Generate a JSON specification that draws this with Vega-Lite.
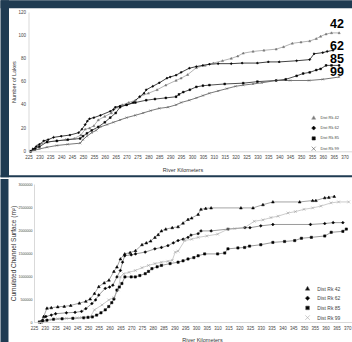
{
  "$schema": "https://vega.github.io/schema/vega-lite/v6.json",
  "background": "white",
  "padding": 0,
  "columns": 1,
  "spacing": 0,
  "resolve": {"scale": {"color": "independent", "fill": "independent", "stroke": "independent", "shape": "independent"}, "legend": {"shape": "independent", "color": "independent", "fill": "independent", "stroke": "independent"}},
  "config": {
    "font": "Liberation Sans",
    "view": {"stroke": null},
    "axis": {"grid": false, "ticks": false, "domainColor": "#cfcfcf", "domainWidth": 0.8, "labelColor": "#444", "titleColor": "#333", "titleFontWeight": "normal", "labelFont": "Liberation Sans", "titleFont": "Liberation Sans", "labelOverlap": false, "labelFlush": false},
    "legend": {"padding": 0, "title": null, "labelColor": "#444", "labelFont": "Liberation Sans"}
  },
  "datasets": {
    "lakes": [
      {"series":"Dist Rk 42","km":226,"lakes":0},{"series":"Dist Rk 42","km":227.5,"lakes":2},{"series":"Dist Rk 42","km":229,"lakes":5},{"series":"Dist Rk 42","km":231,"lakes":7},{"series":"Dist Rk 42","km":234,"lakes":8},{"series":"Dist Rk 42","km":238,"lakes":9},{"series":"Dist Rk 42","km":242,"lakes":10},{"series":"Dist Rk 42","km":246,"lakes":11},{"series":"Dist Rk 42","km":249,"lakes":14},{"series":"Dist Rk 42","km":251,"lakes":19},{"series":"Dist Rk 42","km":253,"lakes":20},{"series":"Dist Rk 42","km":255,"lakes":22},{"series":"Dist Rk 42","km":257,"lakes":27},{"series":"Dist Rk 42","km":260,"lakes":30},{"series":"Dist Rk 42","km":263,"lakes":33},{"series":"Dist Rk 42","km":265.6,"lakes":38},{"series":"Dist Rk 42","km":268,"lakes":40},{"series":"Dist Rk 42","km":271,"lakes":42},{"series":"Dist Rk 42","km":274,"lakes":44},{"series":"Dist Rk 42","km":276,"lakes":47},{"series":"Dist Rk 42","km":280,"lakes":50},{"series":"Dist Rk 42","km":284,"lakes":53},{"series":"Dist Rk 42","km":288,"lakes":57},{"series":"Dist Rk 42","km":292.7,"lakes":61},{"series":"Dist Rk 42","km":295,"lakes":63},{"series":"Dist Rk 42","km":298,"lakes":66},{"series":"Dist Rk 42","km":302,"lakes":72},{"series":"Dist Rk 42","km":306,"lakes":74},{"series":"Dist Rk 42","km":309.8,"lakes":76},{"series":"Dist Rk 42","km":314,"lakes":78},{"series":"Dist Rk 42","km":318,"lakes":80},{"series":"Dist Rk 42","km":321,"lakes":82},{"series":"Dist Rk 42","km":323.5,"lakes":84.5},{"series":"Dist Rk 42","km":328,"lakes":86},{"series":"Dist Rk 42","km":333,"lakes":87},{"series":"Dist Rk 42","km":338.6,"lakes":88},{"series":"Dist Rk 42","km":342,"lakes":90},{"series":"Dist Rk 42","km":346,"lakes":93},{"series":"Dist Rk 42","km":350,"lakes":94},{"series":"Dist Rk 42","km":354,"lakes":95},{"series":"Dist Rk 42","km":357,"lakes":97},{"series":"Dist Rk 42","km":359,"lakes":99},{"series":"Dist Rk 42","km":361.5,"lakes":101},{"series":"Dist Rk 42","km":364,"lakes":102},{"series":"Dist Rk 42","km":367.5,"lakes":102},
      {"series":"Dist Rk 62","km":226,"lakes":0},{"series":"Dist Rk 62","km":227,"lakes":2},{"series":"Dist Rk 62","km":228.5,"lakes":4},{"series":"Dist Rk 62","km":230,"lakes":6},{"series":"Dist Rk 62","km":232,"lakes":9},{"series":"Dist Rk 62","km":234,"lakes":10},{"series":"Dist Rk 62","km":236.5,"lakes":12},{"series":"Dist Rk 62","km":240,"lakes":13},{"series":"Dist Rk 62","km":244,"lakes":14},{"series":"Dist Rk 62","km":248,"lakes":16},{"series":"Dist Rk 62","km":249.5,"lakes":19},{"series":"Dist Rk 62","km":251,"lakes":23},{"series":"Dist Rk 62","km":252,"lakes":26},{"series":"Dist Rk 62","km":253,"lakes":28},{"series":"Dist Rk 62","km":255,"lakes":29},{"series":"Dist Rk 62","km":258,"lakes":31},{"series":"Dist Rk 62","km":262.5,"lakes":34.5},{"series":"Dist Rk 62","km":264,"lakes":36},{"series":"Dist Rk 62","km":264.8,"lakes":38},{"series":"Dist Rk 62","km":267,"lakes":39},{"series":"Dist Rk 62","km":270,"lakes":40},{"series":"Dist Rk 62","km":273,"lakes":42},{"series":"Dist Rk 62","km":276,"lakes":47},{"series":"Dist Rk 62","km":278,"lakes":50},{"series":"Dist Rk 62","km":279,"lakes":53},{"series":"Dist Rk 62","km":282,"lakes":56},{"series":"Dist Rk 62","km":285,"lakes":59},{"series":"Dist Rk 62","km":288.5,"lakes":63},{"series":"Dist Rk 62","km":290,"lakes":64},{"series":"Dist Rk 62","km":292.7,"lakes":65.6},{"series":"Dist Rk 62","km":295,"lakes":68},{"series":"Dist Rk 62","km":298.8,"lakes":71.6},{"series":"Dist Rk 62","km":302,"lakes":73},{"series":"Dist Rk 62","km":305,"lakes":74},{"series":"Dist Rk 62","km":308,"lakes":75},{"series":"Dist Rk 62","km":312,"lakes":75.5},{"series":"Dist Rk 62","km":318,"lakes":75.5},{"series":"Dist Rk 62","km":323,"lakes":76},{"series":"Dist Rk 62","km":330,"lakes":76},{"series":"Dist Rk 62","km":335,"lakes":77},{"series":"Dist Rk 62","km":340,"lakes":77},{"series":"Dist Rk 62","km":348,"lakes":78},{"series":"Dist Rk 62","km":354,"lakes":79},{"series":"Dist Rk 62","km":356,"lakes":84},{"series":"Dist Rk 62","km":360,"lakes":85},{"series":"Dist Rk 62","km":362,"lakes":86},{"series":"Dist Rk 62","km":364.7,"lakes":87},
      {"series":"Dist Rk 85","km":226,"lakes":0},{"series":"Dist Rk 85","km":228,"lakes":2},{"series":"Dist Rk 85","km":230,"lakes":4},{"series":"Dist Rk 85","km":233.5,"lakes":8},{"series":"Dist Rk 85","km":238,"lakes":9},{"series":"Dist Rk 85","km":243,"lakes":10},{"series":"Dist Rk 85","km":248.7,"lakes":11},{"series":"Dist Rk 85","km":250,"lakes":13},{"series":"Dist Rk 85","km":251.8,"lakes":15.5},{"series":"Dist Rk 85","km":254,"lakes":18},{"series":"Dist Rk 85","km":257,"lakes":21},{"series":"Dist Rk 85","km":260,"lakes":25},{"series":"Dist Rk 85","km":262.5,"lakes":29},{"series":"Dist Rk 85","km":265,"lakes":33},{"series":"Dist Rk 85","km":267,"lakes":38},{"series":"Dist Rk 85","km":270,"lakes":40},{"series":"Dist Rk 85","km":274,"lakes":42},{"series":"Dist Rk 85","km":279,"lakes":44},{"series":"Dist Rk 85","km":283,"lakes":45},{"series":"Dist Rk 85","km":288,"lakes":46},{"series":"Dist Rk 85","km":292.7,"lakes":47},{"series":"Dist Rk 85","km":294,"lakes":49},{"series":"Dist Rk 85","km":296,"lakes":51},{"series":"Dist Rk 85","km":299,"lakes":53},{"series":"Dist Rk 85","km":302,"lakes":55.5},{"series":"Dist Rk 85","km":305,"lakes":56.5},{"series":"Dist Rk 85","km":308,"lakes":57},{"series":"Dist Rk 85","km":315,"lakes":58},{"series":"Dist Rk 85","km":323.5,"lakes":58.7},{"series":"Dist Rk 85","km":330,"lakes":60},{"series":"Dist Rk 85","km":338.6,"lakes":61},{"series":"Dist Rk 85","km":343,"lakes":62},{"series":"Dist Rk 85","km":348,"lakes":65},{"series":"Dist Rk 85","km":351,"lakes":67},{"series":"Dist Rk 85","km":354,"lakes":68},{"series":"Dist Rk 85","km":357,"lakes":70},{"series":"Dist Rk 85","km":359,"lakes":71},{"series":"Dist Rk 85","km":361.5,"lakes":74},{"series":"Dist Rk 85","km":364,"lakes":74},{"series":"Dist Rk 85","km":367.5,"lakes":74},
      {"series":"Dist Rk 99","km":226,"lakes":0},{"series":"Dist Rk 99","km":228,"lakes":1},{"series":"Dist Rk 99","km":230,"lakes":2},{"series":"Dist Rk 99","km":233.5,"lakes":3.5},{"series":"Dist Rk 99","km":238,"lakes":5},{"series":"Dist Rk 99","km":243,"lakes":6},{"series":"Dist Rk 99","km":248.7,"lakes":7},{"series":"Dist Rk 99","km":250,"lakes":10},{"series":"Dist Rk 99","km":251.8,"lakes":13},{"series":"Dist Rk 99","km":254,"lakes":16},{"series":"Dist Rk 99","km":256,"lakes":18},{"series":"Dist Rk 99","km":258,"lakes":21},{"series":"Dist Rk 99","km":261,"lakes":23},{"series":"Dist Rk 99","km":264,"lakes":25},{"series":"Dist Rk 99","km":267,"lakes":27},{"series":"Dist Rk 99","km":270,"lakes":29},{"series":"Dist Rk 99","km":274,"lakes":31},{"series":"Dist Rk 99","km":277.6,"lakes":33},{"series":"Dist Rk 99","km":281,"lakes":35},{"series":"Dist Rk 99","km":285,"lakes":37},{"series":"Dist Rk 99","km":289,"lakes":38},{"series":"Dist Rk 99","km":292.7,"lakes":40},{"series":"Dist Rk 99","km":295,"lakes":42},{"series":"Dist Rk 99","km":298.8,"lakes":44},{"series":"Dist Rk 99","km":302,"lakes":46},{"series":"Dist Rk 99","km":305,"lakes":48},{"series":"Dist Rk 99","km":308,"lakes":50},{"series":"Dist Rk 99","km":312,"lakes":52},{"series":"Dist Rk 99","km":316,"lakes":54},{"series":"Dist Rk 99","km":320,"lakes":56},{"series":"Dist Rk 99","km":323.5,"lakes":57},{"series":"Dist Rk 99","km":328,"lakes":58},{"series":"Dist Rk 99","km":332,"lakes":59},{"series":"Dist Rk 99","km":338.6,"lakes":61},{"series":"Dist Rk 99","km":345,"lakes":61},{"series":"Dist Rk 99","km":353.7,"lakes":61},{"series":"Dist Rk 99","km":360,"lakes":62},{"series":"Dist Rk 99","km":367.5,"lakes":64}
    ],
    "surface": [
      {"series":"Dist Rk 42","km":228.5,"surface":0},{"series":"Dist Rk 42","km":229.5,"surface":120000},{"series":"Dist Rk 42","km":231,"surface":300000},{"series":"Dist Rk 42","km":233,"surface":310000},{"series":"Dist Rk 42","km":236,"surface":330000},{"series":"Dist Rk 42","km":239,"surface":340000},{"series":"Dist Rk 42","km":242,"surface":360000},{"series":"Dist Rk 42","km":246,"surface":410000},{"series":"Dist Rk 42","km":249,"surface":450000},{"series":"Dist Rk 42","km":251,"surface":500000},{"series":"Dist Rk 42","km":253,"surface":620000},{"series":"Dist Rk 42","km":255,"surface":770000},{"series":"Dist Rk 42","km":257.5,"surface":850000},{"series":"Dist Rk 42","km":259.7,"surface":910000},{"series":"Dist Rk 42","km":262,"surface":1100000},{"series":"Dist Rk 42","km":263.4,"surface":1195000},{"series":"Dist Rk 42","km":265,"surface":1370000},{"series":"Dist Rk 42","km":267,"surface":1480000},{"series":"Dist Rk 42","km":269.5,"surface":1510000},{"series":"Dist Rk 42","km":272,"surface":1550000},{"series":"Dist Rk 42","km":275,"surface":1680000},{"series":"Dist Rk 42","km":277,"surface":1720000},{"series":"Dist Rk 42","km":279,"surface":1760000},{"series":"Dist Rk 42","km":281,"surface":1840000},{"series":"Dist Rk 42","km":282.5,"surface":1900000},{"series":"Dist Rk 42","km":284,"surface":1980000},{"series":"Dist Rk 42","km":286,"surface":2020000},{"series":"Dist Rk 42","km":289,"surface":2050000},{"series":"Dist Rk 42","km":291.7,"surface":2070000},{"series":"Dist Rk 42","km":294,"surface":2150000},{"series":"Dist Rk 42","km":296.3,"surface":2230000},{"series":"Dist Rk 42","km":298,"surface":2260000},{"series":"Dist Rk 42","km":301,"surface":2340000},{"series":"Dist Rk 42","km":302.3,"surface":2450000},{"series":"Dist Rk 42","km":304.5,"surface":2470000},{"series":"Dist Rk 42","km":307,"surface":2480000},{"series":"Dist Rk 42","km":320.8,"surface":2480000},{"series":"Dist Rk 42","km":326.4,"surface":2480000},{"series":"Dist Rk 42","km":331,"surface":2550000},{"series":"Dist Rk 42","km":335.6,"surface":2610000},{"series":"Dist Rk 42","km":348,"surface":2610000},{"series":"Dist Rk 42","km":354,"surface":2640000},{"series":"Dist Rk 42","km":355.5,"surface":2640000},{"series":"Dist Rk 42","km":359.6,"surface":2700000},{"series":"Dist Rk 42","km":361.5,"surface":2710000},{"series":"Dist Rk 42","km":364,"surface":2730000},
      {"series":"Dist Rk 62","km":228,"surface":0},{"series":"Dist Rk 62","km":229,"surface":40000},{"series":"Dist Rk 62","km":230.5,"surface":120000},{"series":"Dist Rk 62","km":233,"surface":150000},{"series":"Dist Rk 62","km":235,"surface":180000},{"series":"Dist Rk 62","km":240,"surface":200000},{"series":"Dist Rk 62","km":244,"surface":210000},{"series":"Dist Rk 62","km":247,"surface":230000},{"series":"Dist Rk 62","km":249,"surface":290000},{"series":"Dist Rk 62","km":251.8,"surface":400000},{"series":"Dist Rk 62","km":253.5,"surface":480000},{"series":"Dist Rk 62","km":255,"surface":586000},{"series":"Dist Rk 62","km":258,"surface":730000},{"series":"Dist Rk 62","km":260,"surface":760000},{"series":"Dist Rk 62","km":261.5,"surface":800000},{"series":"Dist Rk 62","km":263.4,"surface":980000},{"series":"Dist Rk 62","km":265,"surface":1120000},{"series":"Dist Rk 62","km":266,"surface":1300000},{"series":"Dist Rk 62","km":267,"surface":1440000},{"series":"Dist Rk 62","km":270,"surface":1460000},{"series":"Dist Rk 62","km":272,"surface":1480000},{"series":"Dist Rk 62","km":276.5,"surface":1520000},{"series":"Dist Rk 62","km":281,"surface":1590000},{"series":"Dist Rk 62","km":284,"surface":1620000},{"series":"Dist Rk 62","km":287,"surface":1660000},{"series":"Dist Rk 62","km":289.5,"surface":1720000},{"series":"Dist Rk 62","km":291.7,"surface":1770000},{"series":"Dist Rk 62","km":294,"surface":1800000},{"series":"Dist Rk 62","km":296.3,"surface":1840000},{"series":"Dist Rk 62","km":297.7,"surface":1890000},{"series":"Dist Rk 62","km":301,"surface":1920000},{"series":"Dist Rk 62","km":302.3,"surface":1980000},{"series":"Dist Rk 62","km":307,"surface":1980000},{"series":"Dist Rk 62","km":314.8,"surface":2020000},{"series":"Dist Rk 62","km":322.7,"surface":2050000},{"series":"Dist Rk 62","km":325,"surface":2050000},{"series":"Dist Rk 62","km":330,"surface":2090000},{"series":"Dist Rk 62","km":335.6,"surface":2120000},{"series":"Dist Rk 62","km":353,"surface":2120000},{"series":"Dist Rk 62","km":359.6,"surface":2140000},{"series":"Dist Rk 62","km":363.5,"surface":2160000},{"series":"Dist Rk 62","km":368,"surface":2160000},
      {"series":"Dist Rk 85","km":227.5,"surface":0},{"series":"Dist Rk 85","km":229,"surface":20000},{"series":"Dist Rk 85","km":231,"surface":40000},{"series":"Dist Rk 85","km":234,"surface":60000},{"series":"Dist Rk 85","km":238,"surface":70000},{"series":"Dist Rk 85","km":243,"surface":80000},{"series":"Dist Rk 85","km":248,"surface":90000},{"series":"Dist Rk 85","km":250,"surface":100000},{"series":"Dist Rk 85","km":252,"surface":110000},{"series":"Dist Rk 85","km":254,"surface":150000},{"series":"Dist Rk 85","km":256,"surface":200000},{"series":"Dist Rk 85","km":258,"surface":264000},{"series":"Dist Rk 85","km":259.6,"surface":336000},{"series":"Dist Rk 85","km":261,"surface":420000},{"series":"Dist Rk 85","km":262,"surface":500000},{"series":"Dist Rk 85","km":263.4,"surface":694000},{"series":"Dist Rk 85","km":264.5,"surface":760000},{"series":"Dist Rk 85","km":265.7,"surface":837000},{"series":"Dist Rk 85","km":267.1,"surface":980000},{"series":"Dist Rk 85","km":270,"surface":980000},{"series":"Dist Rk 85","km":271.9,"surface":980000},{"series":"Dist Rk 85","km":274,"surface":1010000},{"series":"Dist Rk 85","km":276.5,"surface":1050000},{"series":"Dist Rk 85","km":278,"surface":1100000},{"series":"Dist Rk 85","km":279.6,"surface":1160000},{"series":"Dist Rk 85","km":282,"surface":1200000},{"series":"Dist Rk 85","km":284,"surface":1230000},{"series":"Dist Rk 85","km":288,"surface":1270000},{"series":"Dist Rk 85","km":291.7,"surface":1300000},{"series":"Dist Rk 85","km":294,"surface":1330000},{"series":"Dist Rk 85","km":296.3,"surface":1370000},{"series":"Dist Rk 85","km":299,"surface":1400000},{"series":"Dist Rk 85","km":301,"surface":1440000},{"series":"Dist Rk 85","km":304,"surface":1480000},{"series":"Dist Rk 85","km":310,"surface":1480000},{"series":"Dist Rk 85","km":313.3,"surface":1500000},{"series":"Dist Rk 85","km":314.8,"surface":1590000},{"series":"Dist Rk 85","km":319.4,"surface":1610000},{"series":"Dist Rk 85","km":322.5,"surface":1620000},{"series":"Dist Rk 85","km":324.8,"surface":1650000},{"series":"Dist Rk 85","km":330,"surface":1680000},{"series":"Dist Rk 85","km":335.6,"surface":1730000},{"series":"Dist Rk 85","km":341,"surface":1750000},{"series":"Dist Rk 85","km":345.7,"surface":1770000},{"series":"Dist Rk 85","km":348.8,"surface":1820000},{"series":"Dist Rk 85","km":353.4,"surface":1840000},{"series":"Dist Rk 85","km":359.6,"surface":1870000},{"series":"Dist Rk 85","km":362.6,"surface":1950000},{"series":"Dist Rk 85","km":368,"surface":1970000},{"series":"Dist Rk 85","km":369.6,"surface":2020000},
      {"series":"Dist Rk 99","km":228,"surface":0},{"series":"Dist Rk 99","km":230,"surface":20000},{"series":"Dist Rk 99","km":233,"surface":50000},{"series":"Dist Rk 99","km":236,"surface":70000},{"series":"Dist Rk 99","km":240,"surface":80000},{"series":"Dist Rk 99","km":245,"surface":90000},{"series":"Dist Rk 99","km":247,"surface":100000},{"series":"Dist Rk 99","km":249,"surface":105000},{"series":"Dist Rk 99","km":251,"surface":110000},{"series":"Dist Rk 99","km":253,"surface":264000},{"series":"Dist Rk 99","km":256.5,"surface":371000},{"series":"Dist Rk 99","km":259.6,"surface":479000},{"series":"Dist Rk 99","km":262,"surface":530000},{"series":"Dist Rk 99","km":264,"surface":700000},{"series":"Dist Rk 99","km":265,"surface":980000},{"series":"Dist Rk 99","km":266.5,"surface":1050000},{"series":"Dist Rk 99","km":269,"surface":1080000},{"series":"Dist Rk 99","km":271.9,"surface":1120000},{"series":"Dist Rk 99","km":275,"surface":1180000},{"series":"Dist Rk 99","km":278,"surface":1230000},{"series":"Dist Rk 99","km":281,"surface":1270000},{"series":"Dist Rk 99","km":284,"surface":1300000},{"series":"Dist Rk 99","km":287,"surface":1320000},{"series":"Dist Rk 99","km":289,"surface":1340000},{"series":"Dist Rk 99","km":290.4,"surface":1520000},{"series":"Dist Rk 99","km":291.7,"surface":1540000},{"series":"Dist Rk 99","km":294.8,"surface":1770000},{"series":"Dist Rk 99","km":298,"surface":1800000},{"series":"Dist Rk 99","km":301,"surface":1840000},{"series":"Dist Rk 99","km":305,"surface":1870000},{"series":"Dist Rk 99","km":310,"surface":1910000},{"series":"Dist Rk 99","km":314.8,"surface":2020000},{"series":"Dist Rk 99","km":318,"surface":2030000},{"series":"Dist Rk 99","km":322.5,"surface":2050000},{"series":"Dist Rk 99","km":327,"surface":2190000},{"series":"Dist Rk 99","km":331,"surface":2220000},{"series":"Dist Rk 99","km":334.7,"surface":2270000},{"series":"Dist Rk 99","km":338,"surface":2300000},{"series":"Dist Rk 99","km":342.6,"surface":2370000},{"series":"Dist Rk 99","km":346,"surface":2400000},{"series":"Dist Rk 99","km":350,"surface":2450000},{"series":"Dist Rk 99","km":354,"surface":2480000},{"series":"Dist Rk 99","km":357.8,"surface":2520000},{"series":"Dist Rk 99","km":362.5,"surface":2590000},{"series":"Dist Rk 99","km":366,"surface":2610000},{"series":"Dist Rk 99","km":370.7,"surface":2610000}
    ]
  },
  "concat": [
    {
      "width": 327,
      "height": 139.3,
      "layer": [
        {
          "data": {"values": [{}]},
          "mark": {"type": "rect", "color": "#1f3b52"},
          "encoding": {
            "x": {"datum": 212.16, "type": "quantitative"},
            "x2": {"datum": 400},
            "y": {"datum": 130.08, "type": "quantitative"},
            "y2": {"datum": 123.19}
          }
        },
        {
          "data": {"values": [{}]},
          "mark": {"type": "rect", "color": "#1f3b52"},
          "encoding": {
            "x": {"datum": 212.16, "type": "quantitative"},
            "x2": {"datum": 216.06},
            "y": {"datum": 130.08, "type": "quantitative"},
            "y2": {"datum": -22.42}
          }
        },
        {
          "data": {"values": [{}]},
          "mark": {"type": "rect", "color": "#1f3b52"},
          "encoding": {
            "x": {"datum": 212.16, "type": "quantitative"},
            "x2": {"datum": 400},
            "y": {"datum": -20.7, "type": "quantitative"},
            "y2": {"datum": -22.42}
          }
        },
        {
          "data": {"name": "lakes"},
          "mark": {"type": "line", "strokeWidth": 0.8},
          "encoding": {
            "x": {"field": "km", "type": "quantitative", "scale": {"domain": [225, 375], "range": [-5.5, 321.5], "nice": false, "zero": false},
              "axis": {"zindex": 2, "tickCount": 100, "labelOverlap": false, "values": [225,230,235,240,245,250,255,260,265,270,275,280,285,290,295,300,305,310,315,320,325,330,335,340,345,350,355,360,365,370,375], "title": "River Kilometers", "labelFontSize": 4.5, "labelPadding": 3, "titleFontSize": 5.5, "titlePadding": 8.5, "titleX": 148.5}},
            "y": {"field": "lakes", "type": "quantitative", "scale": {"domain": [0, 120], "nice": false},
              "axis": {"zindex": 2, "tickCount": 100, "offset": 5.5, "labelOverlap": false, "values": [0,20,40,60,80,100,120], "title": "Number of Lakes", "labelFontSize": 4.5, "labelPadding": 3, "titleFontSize": 5.5, "titlePadding": 1.5}},
            "color": {"field": "series", "type": "nominal",
              "scale": {"domain": ["Dist Rk 42","Dist Rk 62","Dist Rk 85","Dist Rk 99"], "range": ["#a0a0a0","#111111","#222222","#555555"]}}
          }
        },
        {
          "data": {"name": "lakes"},
          "mark": {"type": "point", "filled": true, "size": 5, "strokeWidth": 0.5, "opacity": 1},
          "encoding": {
            "x": {"field": "km", "type": "quantitative"},
            "y": {"field": "lakes", "type": "quantitative"},
            "fill": {"field": "series", "type": "nominal",
              "scale": {"domain": ["Dist Rk 42","Dist Rk 62","Dist Rk 85","Dist Rk 99"], "range": ["#777777","#000000","#000000","#555555"]}},
            "stroke": {"field": "series", "type": "nominal",
              "scale": {"domain": ["Dist Rk 42","Dist Rk 62","Dist Rk 85","Dist Rk 99"], "range": ["#777777","#000000","#000000","#555555"]}},
            "shape": {"field": "series", "type": "nominal",
              "scale": {"domain": ["Dist Rk 42","Dist Rk 62","Dist Rk 85","Dist Rk 99"], "range": ["M0,-1L1,0.75L-1,0.75Z","M0,-1L1,0L0,1L-1,0Z","M-0.8,-0.8H0.8V0.8H-0.8Z","M-1,-1L1,1M-1,1L1,-1"]},
              "legend": {"zindex": 2, "orient": "none", "legendX": 277.2, "legendY": 103.3, "symbolSize": 16, "labelFontSize": 4, "labelOffset": 4.3, "rowPadding": 3.3, "symbolStrokeWidth": 0.6, "title": null}}
          }
        },
        {
          "data": {"values": [
            {"label": "42", "km": 366.5, "lakes": 109.5},
            {"label": "62", "km": 366.5, "lakes": 90.7},
            {"label": "85", "km": 366.5, "lakes": 79.4},
            {"label": "99", "km": 366.5, "lakes": 68.2}
          ]},
          "mark": {"type": "text", "fontSize": 12.5, "fontWeight": "bold", "font": "Liberation Sans", "color": "#000000", "align": "center", "baseline": "middle"},
          "encoding": {
            "x": {"field": "km", "type": "quantitative"},
            "y": {"field": "lakes", "type": "quantitative"},
            "text": {"field": "label", "type": "nominal"}
          }
        }
      ]
    },
    {
      "width": 324,
      "height": 138,
      "layer": [
        {
          "data": {"values": [{}]},
          "mark": {"type": "rect", "color": "#1f3b52"},
          "encoding": {
            "x": {"datum": 209.49, "type": "quantitative"},
            "x2": {"datum": 213.19},
            "y": {"datum": 3108700, "type": "quantitative"},
            "y2": {"datum": -600000}
          }
        },
        {
          "data": {"name": "surface"},
          "mark": {"type": "line", "strokeWidth": 0.6},
          "encoding": {
            "x": {"field": "km", "type": "quantitative", "scale": {"domain": [225, 375], "nice": false, "zero": false},
              "axis": {"zindex": 2, "tickCount": 100, "labelOverlap": false, "values": [225,230,235,240,245,250,255,260,265,270,275,280,285,290,295,300,305,310,315,320,325,330,335,340,345,350,355,360,365,370,375], "title": "River Kilometers", "labelFontSize": 4.5, "labelPadding": 3.5, "titleFontSize": 5.5, "titlePadding": 7, "titleX": 168}},
            "y": {"field": "surface", "type": "quantitative", "scale": {"domain": [0, 3000000], "nice": false},
              "axis": {"zindex": 2, "tickCount": 100, "labelOverlap": false, "values": [0,500000,1000000,1500000,2000000,2500000,3000000], "format": "d", "title": "Cumulated Channel Surface (m²)", "labelFontSize": 3.6, "labelPadding": 2, "titleFontSize": 6.5, "titlePadding": 1.25}},
            "color": {"field": "series", "type": "nominal",
              "scale": {"domain": ["Dist Rk 42","Dist Rk 62","Dist Rk 85","Dist Rk 99"], "range": ["#666666","#555555","#555555","#aaaaaa"]}}
          }
        },
        {
          "data": {"name": "surface"},
          "mark": {"type": "point", "filled": true, "size": 8, "strokeWidth": 0.5, "opacity": 1},
          "encoding": {
            "x": {"field": "km", "type": "quantitative"},
            "y": {"field": "surface", "type": "quantitative"},
            "fill": {"field": "series", "type": "nominal",
              "scale": {"domain": ["Dist Rk 42","Dist Rk 62","Dist Rk 85","Dist Rk 99"], "range": ["#000000","#000000","#000000","#999999"]}},
            "stroke": {"field": "series", "type": "nominal",
              "scale": {"domain": ["Dist Rk 42","Dist Rk 62","Dist Rk 85","Dist Rk 99"], "range": ["#000000","#000000","#000000","#999999"]}},
            "shape": {"field": "series", "type": "nominal",
              "scale": {"domain": ["Dist Rk 42","Dist Rk 62","Dist Rk 85","Dist Rk 99"], "range": ["M0,-1L1,0.75L-1,0.75Z","M0,-1L1,0L0,1L-1,0Z","M-0.8,-0.8H0.8V0.8H-0.8Z","M-1,-1L1,1M-1,1L1,-1"]},
              "legend": {"zindex": 2, "orient": "none", "legendX": 270.55, "legendY": 101.5, "symbolSize": 20, "labelFontSize": 5, "labelOffset": 6.75, "rowPadding": 2.7, "symbolStrokeWidth": 0.6, "title": null}}
          }
        }
      ]
    }
  ]
}
